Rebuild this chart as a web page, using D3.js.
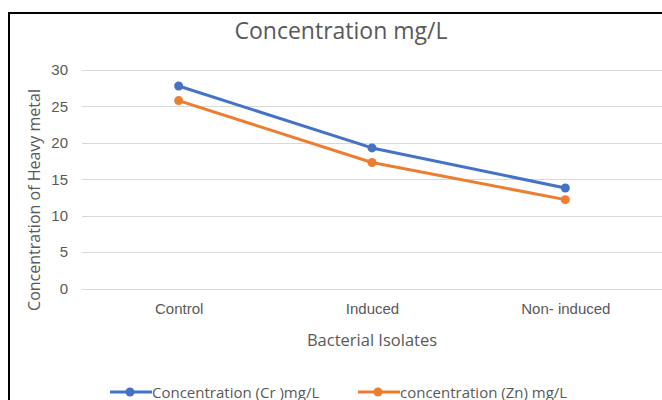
<!DOCTYPE html>
<html lang="en">
<head>
  <meta charset="UTF-8" />
  <title>Concentration mg/L</title>
  <style>
    body { margin: 0; background: #fff; font-family: 'Open Sans', sans-serif; }
    svg { display: block; }
    .grid line { stroke: #d9d9d9; stroke-width: 1px; shape-rendering: crispEdges; }
    .grid path { display: none; }
    .axis text { fill: #595959; }
    .axis path, .axis line { display: none; }
    .series { fill: none; stroke-width: 3px; stroke-linejoin: round; }
  </style>
</head>
<body>
  <svg width="662" height="400"></svg>

  <script src="https://d3js.org/d3.v7.min.js"></script>
  <script>
    // --- data
    const categories = ["Control", "Induced", "Non- induced"];
    const crValues = [27.8, 19.3, 13.8];
    const znValues = [25.8, 17.3, 12.2];
    const yTicks = [0, 5, 10, 15, 20, 25, 30];
    const seriesNames = ["Concentration (Cr )mg/L", "concentration (Zn) mg/L"];
    const seriesColors = ["#4472c4", "#ed7d31"];

    const series = [
      { name: seriesNames[0], color: seriesColors[0], values: crValues },
      { name: seriesNames[1], color: seriesColors[1], values: znValues }
    ];

    const svg = d3.select("svg");
    const plot = { left: 82, right: 662, top: 70, bottom: 288.5 };

    // chart frame (cropped on right / bottom)
    svg.append("rect")
      .attr("x", 9).attr("y", 13).attr("width", 720).attr("height", 420)
      .attr("fill", "none").attr("stroke", "#000").attr("stroke-width", 2);

    // title
    svg.append("text")
      .attr("x", 341).attr("y", 39)
      .attr("text-anchor", "middle")
      .attr("fill", "#595959")
      .style("font-size", "23px")
      .text("Concentration mg/L");

    const x = d3.scalePoint().domain(categories).range([plot.left, plot.right]).padding(0.5);
    const y = d3.scaleLinear().domain([0, 30]).range([plot.bottom, plot.top]);

    // gridlines
    svg.append("g").attr("class", "grid")
      .attr("transform", `translate(${plot.left},0)`)
      .call(d3.axisLeft(y).tickValues(yTicks).tickSize(-(plot.right - plot.left)).tickFormat(""));

    // y axis labels
    svg.append("g").attr("class", "axis")
      .attr("transform", `translate(${plot.left - 14},0)`)
      .call(d3.axisLeft(y).tickValues(yTicks).tickSize(0).tickPadding(0))
      .selectAll("text").style("font-size", "15px");

    // x axis labels
    svg.append("g").attr("class", "axis")
      .attr("transform", `translate(0,${plot.bottom})`)
      .call(d3.axisBottom(x).tickSize(0).tickPadding(15))
      .selectAll("text").style("font-size", "15px");

    // axis titles
    svg.append("text")
      .attr("x", x("Induced")).attr("y", 345.5)
      .attr("text-anchor", "middle").attr("fill", "#595959")
      .style("font-size", "16.5px")
      .text("Bacterial Isolates");

    svg.append("text")
      .attr("transform", `translate(40,200) rotate(-90)`)
      .attr("text-anchor", "middle").attr("fill", "#595959")
      .style("font-size", "16px")
      .text("Concentration of Heavy metal");

    // lines + markers
    const line = d3.line()
      .x((d, i) => x(categories[i]))
      .y(d => y(d));

    const sg = svg.selectAll(".s").data(series).join("g").attr("class", "s");
    sg.append("path")
      .attr("class", "series")
      .attr("stroke", d => d.color)
      .attr("d", d => line(d.values));
    sg.selectAll("circle").data(d => d.values.map(v => ({ v, color: d.color })))
      .join("circle")
      .attr("cx", (d, i) => x(categories[i]))
      .attr("cy", d => y(d.v))
      .attr("r", 4.5)
      .attr("fill", d => d.color);

    // legend
    const legendX = [110, 358];
    const legendY = 392;
    const lg = svg.selectAll(".lg").data(series).join("g")
      .attr("class", "lg")
      .attr("transform", (d, i) => `translate(${legendX[i]},${legendY})`);
    lg.append("line")
      .attr("x1", 0).attr("x2", 42).attr("y1", 0).attr("y2", 0)
      .attr("stroke", d => d.color).attr("stroke-width", 3);
    lg.append("circle").attr("cx", 20).attr("cy", 0).attr("r", 4.5).attr("fill", d => d.color);
    lg.append("text")
      .attr("x", 42).attr("y", 5.5)
      .attr("fill", "#595959")
      .style("font-size", "15px")
      .text(d => d.name);
  </script>
</body>
</html>
